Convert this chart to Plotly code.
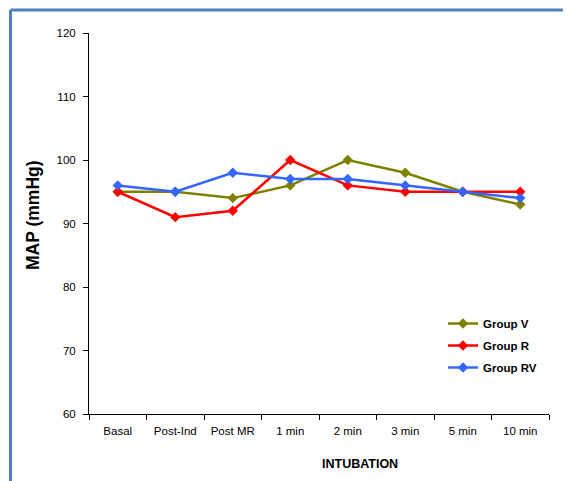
import plotly.graph_objects as go

categories = ["Basal", "Post-Ind", "Post MR", "1 min", "2 min", "3 min", "5 min", "10 min"]
group_v = [95, 95, 94, 96, 100, 98, 95, 93]
group_r = [95, 91, 92, 100, 96, 95, 95, 95]
group_rv = [96, 95, 98, 97, 97, 96, 95, 94]
y_ticks = [60, 70, 80, 90, 100, 110, 120]

series = [
    ("Group V", group_v, "#808000"),
    ("Group R", group_r, "#FF0000"),
    ("Group RV", group_rv, "#3366FF"),
]

fig = go.Figure()
for name, vals, color in series:
    fig.add_trace(go.Scatter(
        x=categories, y=vals, name=name, legendgroup=name, mode="lines+markers",
        line=dict(color=color, width=2.5),
        marker=dict(symbol="diamond", size=8, color=color),
    ))

FONT = "Liberation Sans, Arial, sans-serif"
OFF = 8  # page body margin
PW, PH = 571, 481
W, H = PW - OFF, PH - OFF
# plot area in page pixels
X0, X1, Y0, Y1 = 89, 549, 33, 414
L, T = X0 - OFF, Y0 - OFF
R, B = PW - X1, PH - Y1
pw, ph = X1 - X0, Y1 - Y0

def px(xp):
    return (xp - X0) / pw

def py(yp):
    return (Y1 - yp) / ph

fig.update_layout(
    width=W, height=H,
    margin=dict(l=L, r=R, t=T, b=B),
    paper_bgcolor="white", plot_bgcolor="white",
    font=dict(family=FONT, size=11.5, color="black"),
    showlegend=True,
    legend=dict(
        x=px(443), y=py(309), xanchor="left", yanchor="top",
        font=dict(size=11.5, color="black", family=FONT, weight="bold"),
        bgcolor="rgba(0,0,0,0)", itemwidth=30, tracegroupgap=3,
    ),
    xaxis=dict(
        type="category", showgrid=False, zeroline=False,
        showline=True, linecolor="black", linewidth=1,
        ticks="outside", ticklen=5, tickcolor="black", tickson="boundaries",
        range=[-0.5, 7.5], ticklabelstandoff=6,
    ),
    yaxis=dict(
        range=[60, 120], tickvals=y_ticks, showgrid=False, zeroline=False,
        showline=True, linecolor="black", linewidth=1,
        ticks="outside", ticklen=5, tickcolor="black", ticklabelstandoff=5,
    ),
    annotations=[
        dict(text="MAP (mmHg)", xref="paper", yref="paper", x=px(33), y=py(215),
             textangle=-90, showarrow=False, xanchor="center", yanchor="middle",
             font=dict(size=17.5, family=FONT, weight="bold", color="black")),
        dict(text="INTUBATION", xref="paper", yref="paper", x=px(360), y=py(464),
             showarrow=False, xanchor="center", yanchor="middle",
             font=dict(size=12.5, family=FONT, weight="bold", color="black")),
    ],
    shapes=[
        dict(type="line", xref="paper", yref="paper", x0=px(10.5), x1=px(580),
             y0=py(10), y1=py(10), line=dict(color="#4F81BD", width=3)),
        dict(type="line", xref="paper", yref="paper", x0=px(10.5), x1=px(10.5),
             y0=py(10), y1=py(490), line=dict(color="#4F81BD", width=3)),
    ],
)

fig.write_html("out.html")
